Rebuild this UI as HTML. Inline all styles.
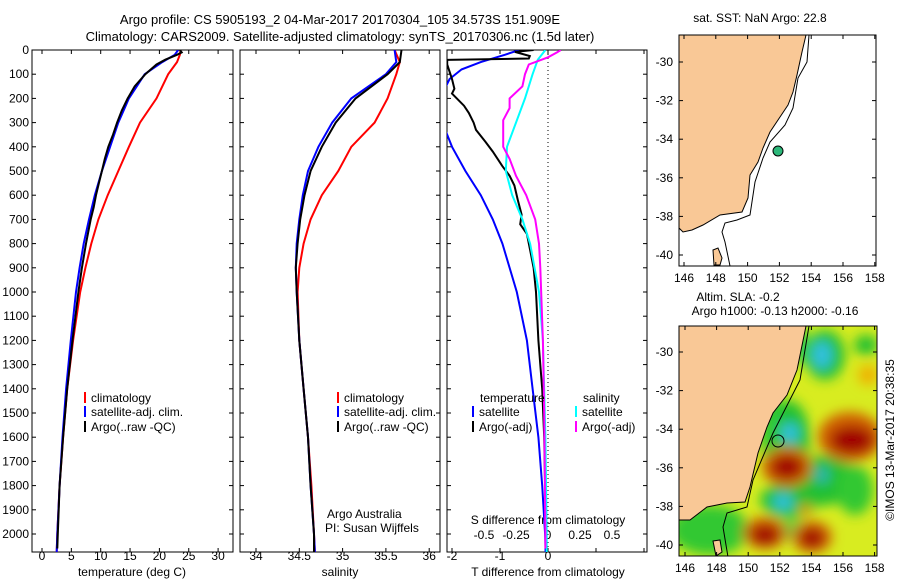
<!DOCTYPE html>
<html><head><meta charset="utf-8"><style>
body{margin:0;background:#fff;width:900px;height:580px;overflow:hidden}
svg{font-family:"Liberation Sans",sans-serif;font-size:12px}
</style></head><body>
<svg id="chart" width="900" height="580">
<defs>
<clipPath id="c1"><rect x="32" y="50" width="201" height="502"/></clipPath>
<clipPath id="c2"><rect x="240" y="50" width="200" height="502"/></clipPath>
<clipPath id="c3"><rect x="447" y="50" width="200" height="502"/></clipPath>
<clipPath id="m1c"><rect x="679" y="35" width="197" height="231"/></clipPath>
<clipPath id="m2c"><rect x="679" y="326" width="198" height="230"/></clipPath>
<filter id="bl" x="-50%" y="-50%" width="200%" height="200%"><feGaussianBlur stdDeviation="6"/></filter>
</defs>
<text x="340" y="24" text-anchor="middle" font-size="13">Argo profile: CS 5905193_2 04-Mar-2017 20170304_105 34.573S 151.909E</text>
<text x="340" y="41" text-anchor="middle" font-size="13">Climatology: CARS2009. Satellite-adjusted climatology: synTS_20170306.nc (1.5d later)</text>
<g id="p1"></g>
<g id="p2"></g>
<g id="p3"></g>
<g id="m1"></g>
<g id="m2"></g>
</svg>
<script>
const NS='http://www.w3.org/2000/svg';
// ---- data ----
const depthT=[0,20,50,100,200,300,400,500,600,700,800,900,1000,1200,1400,1600,1800,2000,2075];
const tempClim=[23.6,23.5,23.0,21.5,19.5,16.7,14.8,13.0,11.2,9.6,8.4,7.4,6.5,5.3,4.3,3.6,3.0,2.6,2.5];
const tempSat=[23.2,22.6,20.5,17.5,14.8,13.0,11.6,10.2,9.0,8.0,7.1,6.4,5.8,4.9,4.1,3.5,3.0,2.6,2.5];
const depthA=[0,10,20,40,60,100,150,200,250,300,350,400,450,500,550,600,650,700,800,900,1000,1200,1400,1600,1800,2000,2060];
const tempArgo=[23.5,23.8,23.0,21.0,19.5,17.6,15.8,14.6,13.6,12.8,12.1,11.3,10.7,10.2,9.7,9.2,8.8,8.3,7.5,6.8,6.2,5.2,4.3,3.6,3.0,2.7,2.6];
const depthS=[0,50,100,200,300,400,500,600,700,800,900,1000,1200,1400,1600,1800,2000,2075];
const salClim=[35.6,35.66,35.62,35.52,35.37,35.1,34.95,34.76,34.63,34.55,34.5,34.48,34.5,34.55,34.6,34.64,34.67,34.68];
const salSat=[35.6,35.62,35.5,35.1,34.88,34.72,34.6,34.54,34.5,34.47,34.46,34.47,34.5,34.55,34.6,34.63,34.67,34.68];
const salArgo=[35.68,35.66,35.52,35.15,34.92,34.76,34.63,34.56,34.51,34.48,34.46,34.47,34.5,34.55,34.6,34.63,34.67,34.67];
const depthD=[0,20,50,80,120,160,200,300,350,400,500,600,700,800,1000,1200,1400,1600,1800,2000,2075];
const tDiffSat=[-0.6,-0.9,-1.4,-1.8,-2.05,-2.15,-2.2,-2.2,-2.1,-2.0,-1.72,-1.4,-1.15,-0.95,-0.65,-0.44,-0.32,-0.2,-0.12,-0.06,-0.05];
const depthDA=[0,8,25,35,41,60,120,160,180,200,230,260,300,330,380,420,480,520,560,620,680,720,760,820,900,1000,1200,1400,1600,1800,2000,2060];
const tDiffArgo=[-0.3,-0.69,-0.38,-0.4,-2.1,-2.1,-2.0,-1.95,-2.0,-1.9,-1.75,-1.65,-1.55,-1.5,-1.3,-1.15,-0.95,-0.8,-0.7,-0.63,-0.55,-0.58,-0.44,-0.38,-0.3,-0.25,-0.2,-0.12,-0.08,-0.06,-0.04,-0.03];
const depthSD=[0,40,100,200,300,400,500,600,700,800,1000,1200,1600,2000,2075];
const sDiffSat=[-0.02,-0.08,-0.12,-0.18,-0.25,-0.32,-0.33,-0.28,-0.2,-0.14,-0.07,-0.04,-0.02,-0.01,-0.01];
const depthSA=[0,10,30,60,100,150,200,240,290,330,400,450,520,600,700,800,900,1200,1500,2000,2060];
const sDiffArgo=[0.1,0.07,0.0,-0.15,-0.18,-0.2,-0.3,-0.3,-0.35,-0.35,-0.35,-0.3,-0.25,-0.17,-0.1,-0.07,-0.06,-0.04,-0.03,-0.02,-0.02];
const depthTicks=[0,100,200,300,400,500,600,700,800,900,1000,1100,1200,1300,1400,1500,1600,1700,1800,1900,2000];
const tempTicks=[0,5,10,15,20,25,30];
const salTicks=[34,34.5,35,35.5,36];
const tdTicks=[-2,-1,0];
const sdTicks=[-0.5,-0.25,0,0.25,0.5];
const lonTicks=[146,148,150,152,154,156,158];
const latTicks=[-30,-32,-34,-36,-38,-40];

function el(tag,attrs,parent,txt){const e=document.createElementNS(NS,tag);for(const k in attrs)e.setAttribute(k,attrs[k]);if(txt!==undefined)e.textContent=txt;parent.appendChild(e);return e;}
const yD=d=>50+d*0.242;
const xT=v=>42+v*5.87;
const xS=v=>256+(v-34)*86.6;
const xTD=v=>548+v*48;
const xSD=v=>548+v*128;
function line(g,xs,ys,fx,color,name,clip){const p=el('path',{d:xs.map((v,i)=>(i?'L':'M')+fx(v).toFixed(1)+','+yD(ys[i]).toFixed(1)).join(''),fill:'none',stroke:color,'stroke-width':2,'clip-path':'url(#'+clip+')'},g);

}
function frame(g,x,w,hasLabels){el('rect',{x:x,y:50,width:w,height:502,fill:'none',stroke:'#000'},g);
depthTicks.forEach(d=>{el('line',{x1:x,x2:x+4,y1:yD(d),y2:yD(d),stroke:'#000'},g);el('line',{x1:x+w-4,x2:x+w,y1:yD(d),y2:yD(d),stroke:'#000'},g);
if(hasLabels){const t=el('text',{x:x-3,y:yD(d)+4,'text-anchor':'end'},g,String(d));

}});}
function xticks(g,ticks,fx,y0){ticks.forEach(v=>{const x=fx(v);el('line',{x1:x,x2:x,y1:552,y2:548,stroke:'#000'},g);el('line',{x1:x,x2:x,y1:50,y2:54,stroke:'#000'},g);
const t=el('text',{x:x,y:y0,'text-anchor':'middle'},g,String(v));

});}
function legend(g,x,y,color,label){el('line',{x1:x,x2:x,y1:y-10,y2:y+1,stroke:color,'stroke-width':2},g);const t=el('text',{x:x+6,y:y},g,label);

}

// panel 1
const p1=document.getElementById('p1');
frame(p1,32,201,true);xticks(p1,tempTicks,xT,560);
line(p1,tempClim,depthT,xT,'#f00','temp-climatology-line','c1');
line(p1,tempSat,depthT,xT,'#00f','temp-satellite-line','c1');
line(p1,tempArgo,depthA,xT,'#000','temp-argo-line','c1');
el('text',{x:132,y:576,'text-anchor':'middle'},p1,'temperature (deg C)');
legend(p1,85,402,'#f00','climatology');legend(p1,85,416,'#00f','satellite-adj. clim.');legend(p1,85,431,'#000','Argo(..raw -QC)');
// panel 2
const p2=document.getElementById('p2');
frame(p2,240,200,false);xticks(p2,salTicks,xS,560);
line(p2,salClim,depthS,xS,'#f00','sal-climatology-line','c2');
line(p2,salSat,depthS,xS,'#00f','sal-satellite-line','c2');
line(p2,salArgo,depthS,xS,'#000','sal-argo-line','c2');
el('text',{x:340,y:576,'text-anchor':'middle'},p2,'salinity');
legend(p2,338,402,'#f00','climatology');legend(p2,338,416,'#00f','satellite-adj. clim.');legend(p2,338,431,'#000','Argo(..raw -QC)');
el('text',{x:327,y:518},p2,'Argo Australia');el('text',{x:325,y:532},p2,'PI: Susan Wijffels');
// panel 3
const p3=document.getElementById('p3');
frame(p3,447,200,false);xticks(p3,tdTicks,xTD,560);
[1,2].forEach(v=>{el('line',{x1:xTD(v),x2:xTD(v),y1:50,y2:54,stroke:'#000'},p3);el('line',{x1:xTD(v),x2:xTD(v),y1:552,y2:548,stroke:'#000'},p3)});
sdTicks.forEach(v=>{const t=el('text',{x:xSD(v),y:539,'text-anchor':'middle'},p3,String(v));

});
el('text',{x:548,y:524,'text-anchor':'middle'},p3,'S difference from climatology');
el('line',{x1:548,x2:548,y1:50,y2:552,stroke:'#000','stroke-dasharray':'1,3'},p3);
line(p3,tDiffSat,depthD,xTD,'#00f','tdiff-satellite-line','c3');
line(p3,tDiffArgo,depthDA,xTD,'#000','tdiff-argo-line','c3');
line(p3,sDiffSat,depthSD,xSD,'#0ff','sdiff-satellite-line','c3');
line(p3,sDiffArgo,depthSA,xSD,'#f0f','sdiff-argo-line','c3');
el('text',{x:548,y:576,'text-anchor':'middle'},p3,'T difference from climatology');
el('text',{x:480,y:402},p3,'temperature');el('text',{x:583,y:402},p3,'salinity');
legend(p3,473,416,'#00f','satellite');legend(p3,473,431,'#000','Argo(-adj)');
legend(p3,576,416,'#0ff','satellite');legend(p3,576,431,'#f0f','Argo(-adj)');

// maps
function mapAxes(g,x0,y0,w,h,lx,ly){lonTicks.forEach(v=>{const x=lx(v);el('line',{x1:x,x2:x,y1:y0+h,y2:y0+h-4,stroke:'#000'},g);el('line',{x1:x,x2:x,y1:y0,y2:y0+4,stroke:'#000'},g);el('text',{x:x,y:y0+h+16,'text-anchor':'middle'},g,String(v));});
latTicks.forEach(v=>{const y=ly(v);el('line',{x1:x0,x2:x0+4,y1:y,y2:y,stroke:'#000'},g);el('line',{x1:x0+w-4,x2:x0+w,y1:y,y2:y,stroke:'#000'},g);el('text',{x:x0-6,y:y+4,'text-anchor':'end'},g,String(v));});
el('rect',{x:x0,y:y0,width:w,height:h,fill:'none',stroke:'#000'},g);}
const m1=document.getElementById('m1');
const g1=el('g',{'clip-path':'url(#m1c)'},m1);
el('rect',{x:679,y:35,width:197,height:231,fill:'#fff'},g1);
el('path',{d:'M679,35L806,35L802,52L797,75L793,92L788,105L780,117L770,132L763,148L758,162L750,175L748,198L742,212L720,215L703,225L692,230L683,232L679,228Z',fill:'#f9c896',stroke:'#000','stroke-width':1},g1);
el('path',{d:'M713,250L718,248L722,258L720,265L714,265Z',fill:'#f9c896',stroke:'#000'},g1);
el('path',{d:'M809,35L807,62L798,78L793,108L785,125L770,142L763,158L755,182L750,215L737,220L725,223L722,232L725,242L730,266',fill:'none',stroke:'#000'},g1);
el('circle',{cx:778,cy:151,r:5,fill:'#2db87a',stroke:'#000'},g1);
mapAxes(m1,679,35,197,231,v=>684+(v-146)*15.9,v=>62+(-30-v)*19.3);
el('text',{x:760,y:22,'text-anchor':'middle'},m1,'sat. SST: NaN Argo: 22.8');

const m2=document.getElementById('m2');
const g2=el('g',{'clip-path':'url(#m2c)'},m2);
el('rect',{x:679,y:326,width:198,height:230,fill:'#d8ec20'},g2);
const bg=el('g',{filter:'url(#bl)'},g2);
[[788,440,22,40,'#20c030'],[790,500,30,18,'#20c030'],[825,355,20,25,'#20c030'],[825,480,30,25,'#20c030'],[855,490,18,25,'#30c830'],[866,345,12,10,'#20c030'],[770,430,10,40,'#30c830'],[710,530,40,25,'#30c830'],[800,345,8,20,'#40d040'],[790,530,25,10,'#60d040'],
 [822,355,10,14,'#30c0e0'],[790,433,9,10,'#30c0e0'],[783,502,10,8,'#30c0e0'],[822,475,6,8,'#30b0c0'],
 [787,467,25,20,'#d06000'],[850,437,32,25,'#d06000'],[765,533,22,16,'#d06000'],[812,537,20,16,'#d06000'],[868,375,10,10,'#f0b000'],[805,510,6,6,'#e09000'],
 [787,467,16,12,'#a00000'],[852,440,22,14,'#a00000'],[765,535,14,10,'#a00000'],[812,538,12,10,'#a00000']].forEach(b=>el('ellipse',{cx:b[0],cy:b[1],rx:b[2],ry:b[3],fill:b[4]},bg));
el('path',{d:'M679,326L806,326L797,370L787,395L773,413L767,427L758,453L750,487L745,502L727,503L707,507L690,520L679,520Z',fill:'#f9c896',stroke:'#000'},g2);
el('path',{d:'M713,541L720,540L722,552L716,556Z',fill:'#f9c896',stroke:'#000'},g2);
el('path',{d:'M809,326L800,380L773,433L753,480L747,507L727,513L723,527L728,557',fill:'none',stroke:'#000'},g2);
el('circle',{cx:778,cy:441,r:6,fill:'none',stroke:'#000'},g2);
mapAxes(m2,679,326,198,230,v=>685+(v-146)*15.8,v=>352+(-30-v)*19.3);
el('text',{x:738,y:301,'text-anchor':'middle'},m2,'Altim. SLA: -0.2');
el('text',{x:775,y:315,'text-anchor':'middle'},m2,'Argo h1000: -0.13 h2000: -0.16');
el('text',{x:894,y:440,'text-anchor':'middle',transform:'rotate(-90 894 440)'},m2,'©IMOS 13-Mar-2017 20:38:35');
</script>
</body></html>
